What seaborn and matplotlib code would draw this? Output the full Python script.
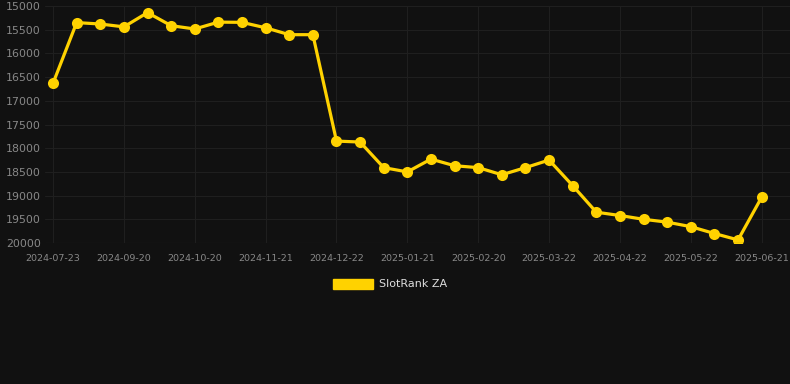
import pandas as pd
import seaborn as sns
import matplotlib.pyplot as plt
from matplotlib.patches import Patch

# dates shown on the axis every third point; the ones in between are estimates
dates = ['2024-07-23', '2024-08-21', '2024-09-01', '2024-09-20', '2024-09-30', '2024-10-10',
         '2024-10-20', '2024-10-31', '2024-11-10', '2024-11-21', '2024-12-01', '2024-12-11',
         '2024-12-22', '2025-01-01', '2025-01-11', '2025-01-21', '2025-01-31', '2025-02-10',
         '2025-02-20', '2025-03-02', '2025-03-12', '2025-03-22', '2025-04-01', '2025-04-11',
         '2025-04-22', '2025-05-02', '2025-05-12', '2025-05-22', '2025-06-01', '2025-06-11',
         '2025-06-21']
ranks = [16630, 15350, 15380, 15440, 15140, 15415, 15485, 15340, 15345, 15460, 15605,
         15605, 17850, 17870, 18410, 18500, 18230, 18370, 18410, 18560, 18410, 18250,
         18790, 19350, 19420, 19500, 19560, 19655, 19800, 19935, 19035]
series_name = 'SlotRank ZA'
y_ticks = [15000, 15500, 16000, 16500, 17000, 17500, 18000, 18500, 19000, 19500, 20000]

df = pd.DataFrame({'date': dates, 'rank': ranks})

bg = '#111111'
gold = '#FFD200'
grid_c = '#1f1f1f'

sns.set_style('dark')
plt.rcParams['font.family'] = ['DejaVu Sans']

fig = plt.figure(figsize=(7.9, 3.84), dpi=100, facecolor=bg)
ax = fig.add_axes([45 / 790, 1 - 243 / 384, 745 / 790, 237 / 384])
ax.set_facecolor(bg)

sns.lineplot(data=df, x='date', y='rank', sort=False, color=gold, linewidth=2.3,
             marker='o', markersize=8, markeredgewidth=0, ax=ax)

ax.set_ylim(20000, 15000)
ax.set_yticks(y_ticks)
ax.set_xlim(-0.34, 31.2)
ax.set_xticks(range(len(dates)))
ax.set_xticklabels([d if i % 3 == 0 else '' for i, d in enumerate(dates)])

ax.grid(True, color=grid_c, linewidth=0.8)
for i, t in enumerate(ax.xaxis.get_major_ticks()):
    if i % 3 != 0:
        t.gridline.set_visible(False)
        t.tick1line.set_visible(False)

ax.tick_params(axis='y', colors='#888888', labelsize=7.9, length=0, pad=3)
ax.tick_params(axis='x', colors='#2a2a2a', labelcolor='#888888', labelsize=6.8, length=5, pad=3)
ax.set_xlabel('')
ax.set_ylabel('')
for s in ax.spines.values():
    s.set_visible(False)
ax.axhline(20000, color='#2a2a2a', linewidth=0.8)

handle = Patch(facecolor=gold, edgecolor=gold)
fig.legend([handle], [series_name], loc='center', bbox_to_anchor=(0.5 - 5 / 790, 1 - 284 / 384),
           frameon=False, labelcolor='#dddddd', fontsize=8, handlelength=3.6, handleheight=1.0,
           handletextpad=0.6)

fig.savefig('out.png', dpi=100, facecolor=bg)
